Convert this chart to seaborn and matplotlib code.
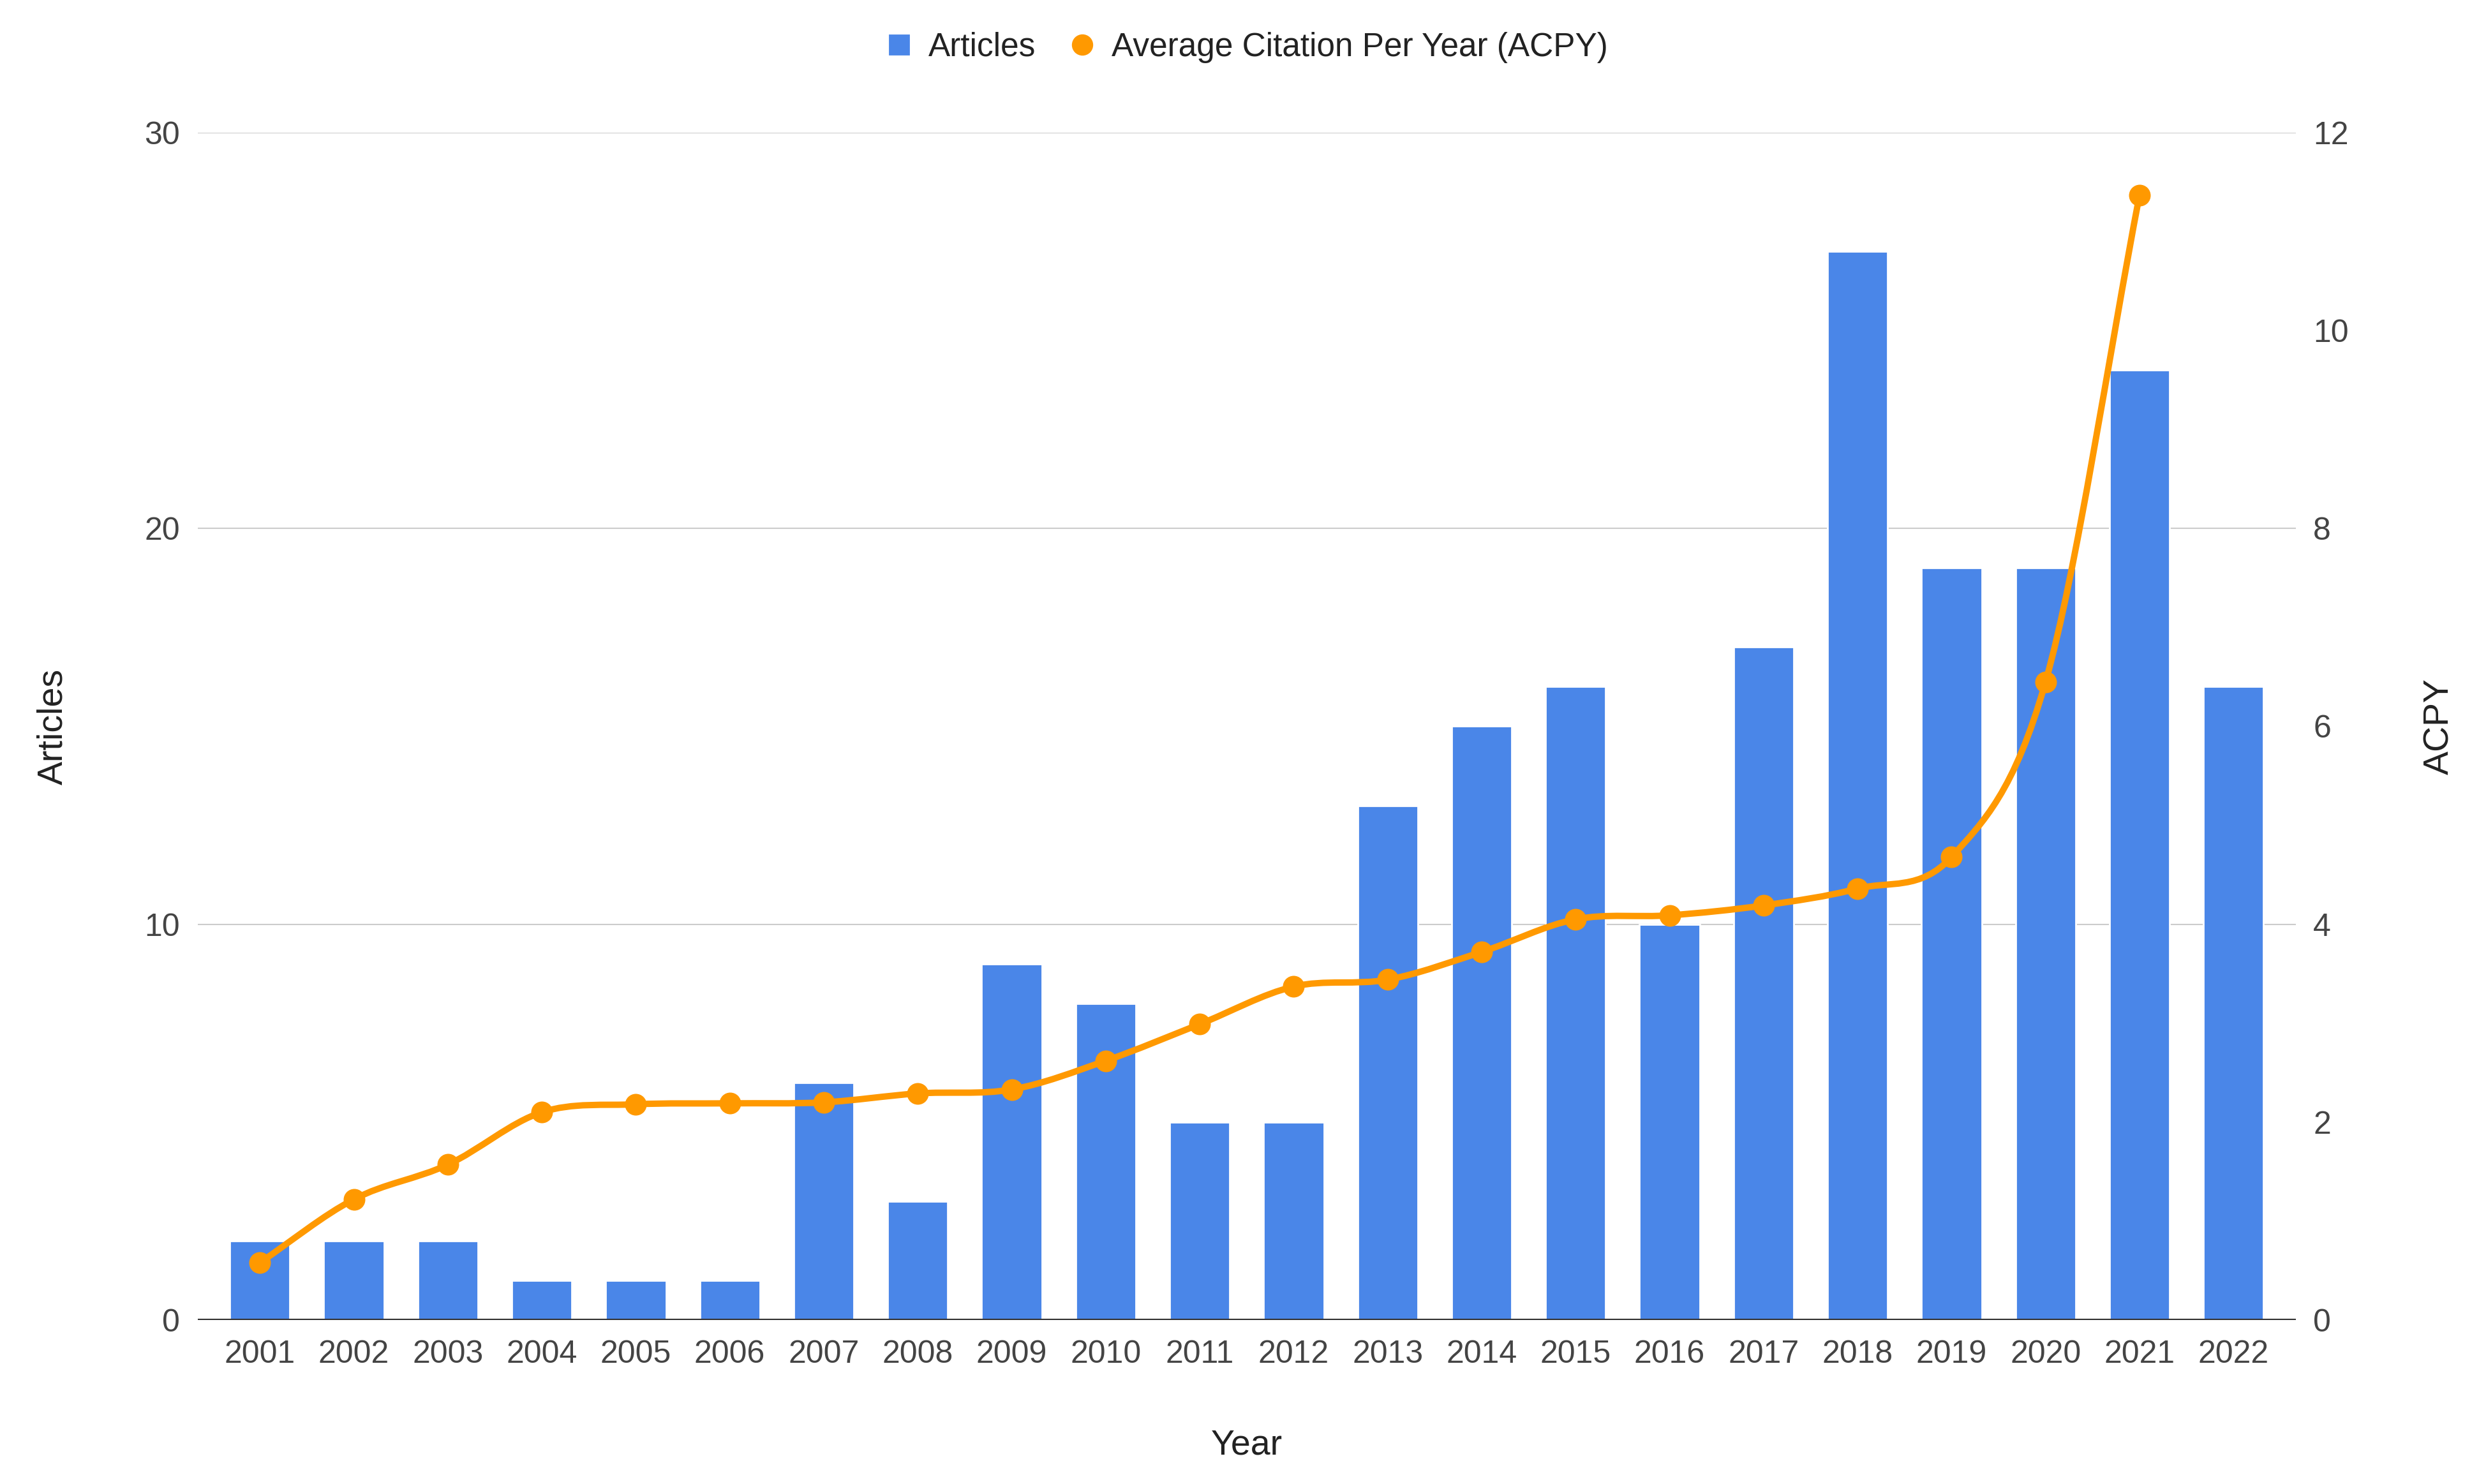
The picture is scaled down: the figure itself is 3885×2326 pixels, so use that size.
import numpy as np
import pandas as pd
import seaborn as sns
import matplotlib.pyplot as plt
from matplotlib.path import Path
from matplotlib.patches import PathPatch
from matplotlib.lines import Line2D

years = [str(y) for y in range(2001, 2023)]
articles = [2, 2, 2, 1, 1, 1, 6, 3, 9, 8, 5, 5, 13, 15, 16, 10, 17, 27, 19, 19, 24, 16]
acpy_years = years[:-1]
acpy = [0.58, 1.22, 1.57, 2.10, 2.18, 2.19, 2.20, 2.29, 2.33, 2.62,
        2.99, 3.37, 3.44, 3.72, 4.05, 4.09, 4.19, 4.36, 4.68, 6.45, 11.37]

BLUE = "#4a86e8"
ORANGE = "#ff9900"

sns.set_theme(style="white")
plt.rcParams['font.family'] = ['Liberation Sans', 'DejaVu Sans']

df = pd.DataFrame({"Year": years, "Articles": articles})

fig = plt.figure(figsize=(19.425, 11.63), dpi=200)
ax = fig.add_axes([0.0798, 0.1105, 0.8462, 0.8001])

sns.barplot(data=df, x="Year", y="Articles", color=BLUE, saturation=1,
            width=0.64, ax=ax, zorder=2)
ax.set_xlim(-0.66, len(years) - 1 + 0.66)
ax.set_ylim(0, 30)
ax.set_yticks([0, 10, 20, 30])
ax.grid(axis="y", color="#cccccc", linewidth=0.75, zorder=0)
ax.grid(axis="x", visible=False)
ax.set_axisbelow(True)
for s in ax.spines.values():
    s.set_visible(False)
ax.axhline(0, color="#333333", linewidth=1.5, zorder=3)
ax.tick_params(axis="both", length=0, labelsize=18, colors="#444444")
ax.tick_params(axis="y", pad=10)
ax.tick_params(axis="x", pad=11)
ax.set_xlabel("Year", fontsize=20, color="#222222", labelpad=34)
ax.set_ylabel("Articles", fontsize=20, color="#222222", labelpad=42)

# right axis: smoothed ACPY line
ax2 = ax.twinx()
ax2.set_ylim(0, 12)
ax2.set_yticks([0, 2, 4, 6, 8, 10, 12])
for s in ax2.spines.values():
    s.set_visible(False)
ax2.tick_params(axis="y", length=0, labelsize=18, colors="#444444", pad=10)
ax2.grid(False)
ax2.set_ylabel("ACPY", fontsize=20, color="#222222", labelpad=42)

xs = np.arange(len(acpy), dtype=float)
ys = np.array(acpy)
tang = np.gradient(ys, xs)
verts = [(xs[0], ys[0])]
codes = [Path.MOVETO]
for i in range(len(xs) - 1):
    verts += [(xs[i] + 1/3, ys[i] + tang[i] / 3),
              (xs[i + 1] - 1/3, ys[i + 1] - tang[i + 1] / 3),
              (xs[i + 1], ys[i + 1])]
    codes += [Path.CURVE4] * 3
ax2.add_patch(PathPatch(Path(verts, codes), facecolor="none", edgecolor=ORANGE,
                        linewidth=3.6, capstyle="round", joinstyle="round", zorder=4))
sns.scatterplot(x=xs, y=ys, color=ORANGE, s=150, linewidth=0, ax=ax2, zorder=5)
ax2.set_xlim(ax.get_xlim())

handles = [Line2D([], [], marker="s", linestyle="none", color=BLUE, markersize=11),
           Line2D([], [], marker="o", linestyle="none", color=ORANGE, markersize=11)]
fig.legend(handles, ["Articles", "Average Citation Per Year (ACPY)"],
           loc="center", bbox_to_anchor=(0.503, 0.968), ncol=2, frameon=False,
           fontsize=18.5, handlelength=0.8, handletextpad=0.5, columnspacing=1.0,
           labelcolor="#222222")

plt.savefig("out.png", dpi=200)
